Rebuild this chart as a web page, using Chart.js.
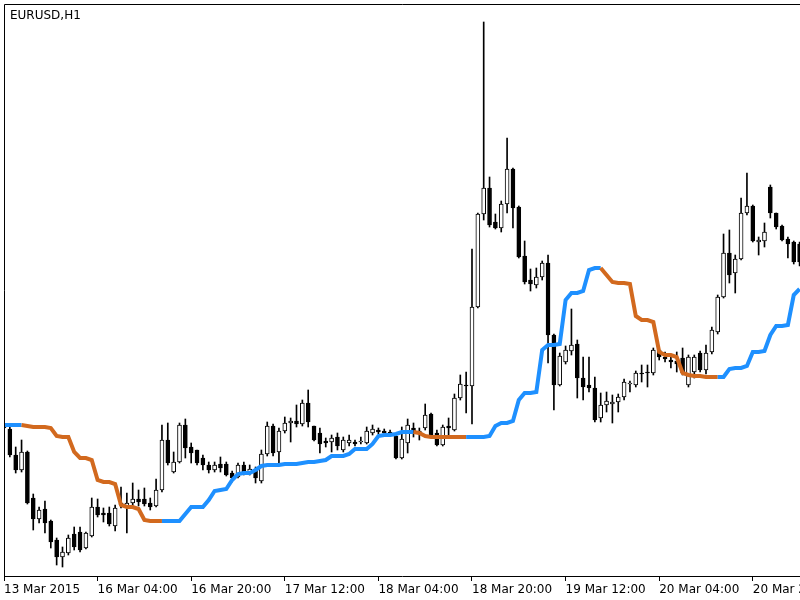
<!DOCTYPE html>
<html>
<head>
<meta charset="utf-8">
<script src="https://cdn.jsdelivr.net/npm/chart.js@4.4.1/dist/chart.umd.min.js"></script>
<style>
  html, body { margin: 0; padding: 0; background: #fff; }
  #wrap { width: 800px; height: 600px; }
</style>
</head>
<body>
<div id="wrap"><canvas id="chart" width="800" height="600"></canvas></div>
<script>
const symbolTitle = "EURUSD,H1";

// one tick every 16 hourly bars
const tickBars = [0, 16, 32, 48, 64, 80, 96, 112, 128];
const tickLabels = [
  "13 Mar 2015", "16 Mar 04:00", "16 Mar 20:00", "17 Mar 12:00", "18 Mar 04:00",
  "18 Mar 20:00", "19 Mar 12:00", "20 Mar 04:00", "20 Mar 20:00"
];

const openPrices = [
  1.0576, 1.0575, 1.0549, 1.0534, 1.0552, 1.0506, 1.0485, 1.0495, 1.0483, 1.0464,
  1.0447, 1.0451, 1.0470, 1.0472, 1.0456, 1.0468, 1.0497, 1.0491, 1.0491, 1.0478,
  1.0499, 1.0497, 1.0501, 1.0505, 1.0505, 1.0501, 1.0498, 1.0514, 1.0564, 1.0532,
  1.0542, 1.0579, 1.0557, 1.0554, 1.0546, 1.0539, 1.0534, 1.0540, 1.0540, 1.0531,
  1.0527, 1.0539, 1.0531, 1.0534, 1.0523, 1.0550, 1.0578, 1.0552, 1.0573, 1.0581,
  1.0583, 1.0580, 1.0601, 1.0578, 1.0571, 1.0563, 1.0562, 1.0567, 1.0554, 1.0561,
  1.0562, 1.0562, 1.0561, 1.0571, 1.0574, 1.0573, 1.0572, 1.0568, 1.0546, 1.0561,
  1.0576, 1.0573, 1.0576, 1.0590, 1.0571, 1.0559, 1.0578, 1.0574, 1.0606, 1.0619,
  1.0618, 1.0697, 1.0790, 1.0816, 1.0782, 1.0776, 1.0800, 1.0835, 1.0797, 1.0748,
  1.0724, 1.0719, 1.0727, 1.0741, 1.0669, 1.0619, 1.0642, 1.0653, 1.0660, 1.0626,
  1.0619, 1.0616, 1.0586, 1.0599, 1.0600, 1.0602, 1.0607, 1.0620, 1.0619, 1.0631,
  1.0632, 1.0631, 1.0654, 1.0647, 1.0644, 1.0643, 1.0646, 1.0619, 1.0632, 1.0651,
  1.0634, 1.0652, 1.0672, 1.0707, 1.0751, 1.0731, 1.0745, 1.0791, 1.0798, 1.0762,
  1.0763, 1.0817, 1.0791, 1.0778, 1.0765, 1.0762, 1.0760
];

const highPrices = [
  1.0583, 1.0577, 1.0557, 1.0564, 1.0553, 1.0510, 1.0497, 1.0503, 1.0484, 1.0466,
  1.0457, 1.0469, 1.0477, 1.0477, 1.0472, 1.0506, 1.0505, 1.0496, 1.0497, 1.0499,
  1.0517, 1.0511, 1.0521, 1.0514, 1.0516, 1.0506, 1.0525, 1.0579, 1.0581, 1.0552,
  1.0581, 1.0585, 1.0561, 1.0554, 1.0549, 1.0542, 1.0542, 1.0547, 1.0542, 1.0533,
  1.0541, 1.0542, 1.0539, 1.0537, 1.0554, 1.0582, 1.0580, 1.0576, 1.0587, 1.0586,
  1.0599, 1.0604, 1.0614, 1.0578, 1.0576, 1.0566, 1.0569, 1.0571, 1.0567, 1.0569,
  1.0564, 1.0567, 1.0577, 1.0579, 1.0576, 1.0575, 1.0574, 1.0570, 1.0577, 1.0585,
  1.0581, 1.0576, 1.0600, 1.0591, 1.0574, 1.0579, 1.0586, 1.0610, 1.0629, 1.0632,
  1.0755, 1.0791, 1.0982, 1.0827, 1.0790, 1.0803, 1.0866, 1.0836, 1.0798, 1.0763,
  1.0735, 1.0736, 1.0743, 1.0749, 1.0670, 1.0651, 1.0658, 1.0695, 1.0664, 1.0647,
  1.0647, 1.0627, 1.0611, 1.0612, 1.0609, 1.0610, 1.0625, 1.0623, 1.0633, 1.0639,
  1.0639, 1.0656, 1.0656, 1.0652, 1.0648, 1.0652, 1.0656, 1.0649, 1.0649, 1.0653,
  1.0659, 1.0677, 1.0709, 1.0770, 1.0774, 1.0749, 1.0806, 1.0831, 1.0799, 1.0767,
  1.0781, 1.0819, 1.0791, 1.0779, 1.0767, 1.0763, 1.0762
];

const lowPrices = [
  1.0573, 1.0547, 1.0531, 1.0532, 1.0500, 1.0474, 1.0481, 1.0471, 1.0456, 1.0439,
  1.0437, 1.0449, 1.0454, 1.0452, 1.0455, 1.0467, 1.0487, 1.0482, 1.0478, 1.0473,
  1.0496, 1.0471, 1.0497, 1.0498, 1.0498, 1.0494, 1.0497, 1.0512, 1.0539, 1.0531,
  1.0541, 1.0546, 1.0541, 1.0539, 1.0534, 1.0531, 1.0532, 1.0532, 1.0528, 1.0522,
  1.0526, 1.0529, 1.0529, 1.0521, 1.0521, 1.0548, 1.0548, 1.0541, 1.0571, 1.0562,
  1.0577, 1.0578, 1.0577, 1.0563, 1.0551, 1.0557, 1.0552, 1.0554, 1.0552, 1.0558,
  1.0558, 1.0560, 1.0560, 1.0569, 1.0570, 1.0569, 1.0568, 1.0545, 1.0545, 1.0551,
  1.0567, 1.0564, 1.0574, 1.0567, 1.0558, 1.0558, 1.0569, 1.0573, 1.0604, 1.0591,
  1.0580, 1.0696, 1.0784, 1.0777, 1.0775, 1.0772, 1.0791, 1.0776, 1.0746, 1.0720,
  1.0713, 1.0716, 1.0724, 1.0641, 1.0594, 1.0618, 1.0640, 1.0649, 1.0606, 1.0604,
  1.0612, 1.0582, 1.0582, 1.0592, 1.0581, 1.0592, 1.0604, 1.0612, 1.0617, 1.0622,
  1.0617, 1.0629, 1.0644, 1.0642, 1.0636, 1.0632, 1.0629, 1.0617, 1.0626, 1.0632,
  1.0630, 1.0650, 1.0670, 1.0706, 1.0721, 1.0711, 1.0744, 1.0789, 1.0762, 1.0749,
  1.0757, 1.0786, 1.0775, 1.0763, 1.0746, 1.0740, 1.0738
];

const closePrices = [
  1.0578, 1.0549, 1.0534, 1.0552, 1.0501, 1.0485, 1.0494, 1.0481, 1.0462, 1.0447,
  1.0452, 1.0466, 1.0457, 1.0454, 1.0471, 1.0497, 1.0489, 1.0489, 1.0480, 1.0496,
  1.0501, 1.0501, 1.0505, 1.0502, 1.0500, 1.0497, 1.0514, 1.0564, 1.0541, 1.0542,
  1.0579, 1.0556, 1.0551, 1.0541, 1.0539, 1.0534, 1.0539, 1.0536, 1.0529, 1.0526,
  1.0539, 1.0531, 1.0535, 1.0526, 1.0550, 1.0578, 1.0551, 1.0573, 1.0581, 1.0583,
  1.0580, 1.0601, 1.0582, 1.0564, 1.0560, 1.0561, 1.0566, 1.0558, 1.0564, 1.0564,
  1.0560, 1.0563, 1.0573, 1.0575, 1.0572, 1.0571, 1.0570, 1.0546, 1.0565, 1.0579,
  1.0573, 1.0570, 1.0589, 1.0569, 1.0559, 1.0577, 1.0576, 1.0606, 1.0620, 1.0618,
  1.0697, 1.0790, 1.0816, 1.0779, 1.0776, 1.0800, 1.0835, 1.0796, 1.0747, 1.0722,
  1.0720, 1.0727, 1.0741, 1.0669, 1.0619, 1.0648, 1.0654, 1.0659, 1.0626, 1.0617,
  1.0616, 1.0584, 1.0599, 1.0603, 1.0602, 1.0607, 1.0622, 1.0621, 1.0631, 1.0630,
  1.0631, 1.0654, 1.0647, 1.0645, 1.0642, 1.0640, 1.0631, 1.0647, 1.0647, 1.0634,
  1.0651, 1.0674, 1.0707, 1.0751, 1.0729, 1.0745, 1.0791, 1.0798, 1.0763, 1.0764,
  1.0772, 1.0791, 1.0777, 1.0764, 1.0760, 1.0742, 1.0742
];

// indicator line and its colour state (1 = rising / blue, 0 = falling / orange)
const signalLine = [
  1.0579, 1.0579, 1.0579, 1.0579, 1.0578, 1.0577, 1.0577, 1.0577, 1.0576, 1.0568,
  1.0567, 1.0567, 1.0552, 1.0546, 1.0546, 1.0544, 1.0524, 1.0522, 1.0522, 1.0520,
  1.0499, 1.0497, 1.0497, 1.0495, 1.0484, 1.0483, 1.0483, 1.0483, 1.0483, 1.0483,
  1.0483, 1.0490, 1.0497, 1.0497, 1.0497, 1.0504, 1.0513, 1.0514, 1.0515, 1.0524,
  1.0530, 1.0531, 1.0531, 1.0534, 1.0538, 1.0539, 1.0539, 1.0539, 1.0540, 1.0540,
  1.0540, 1.0541, 1.0542, 1.0542, 1.0543, 1.0544, 1.0548, 1.0548, 1.0548, 1.0550,
  1.0555, 1.0555, 1.0555, 1.0560, 1.0568, 1.0569, 1.0569, 1.0570, 1.0572, 1.0572,
  1.0572, 1.0571, 1.0568, 1.0567, 1.0567, 1.0567, 1.0567, 1.0567, 1.0567, 1.0567,
  1.0567, 1.0567, 1.0567, 1.0568, 1.0578, 1.0581, 1.0581, 1.0583, 1.0604, 1.0611,
  1.0611, 1.0612, 1.0654, 1.0659, 1.0659, 1.0660, 1.0704, 1.0711, 1.0711, 1.0713,
  1.0734, 1.0736, 1.0736, 1.0729, 1.0722, 1.0721, 1.0721, 1.0720, 1.0688, 1.0684,
  1.0684, 1.0682, 1.0652, 1.0649, 1.0649, 1.0647, 1.0631, 1.0629, 1.0628, 1.0628,
  1.0627, 1.0627, 1.0627, 1.0627, 1.0635, 1.0636, 1.0636, 1.0638, 1.0652, 1.0652,
  1.0653, 1.0669, 1.0678, 1.0678, 1.0679, 1.0709, 1.0715
];

const signalUp = [
  1, 1, 1, 1, 0, 0, 0, 0, 0, 0,
  0, 0, 0, 0, 0, 0, 0, 0, 0, 0,
  0, 0, 0, 0, 0, 0, 0, 0, 1, 1,
  1, 1, 1, 1, 1, 1, 1, 1, 1, 1,
  1, 1, 1, 1, 1, 1, 1, 1, 1, 1,
  1, 1, 1, 1, 1, 1, 1, 1, 1, 1,
  1, 1, 1, 1, 1, 1, 1, 1, 1, 1,
  1, 0, 0, 0, 0, 0, 0, 0, 0, 0,
  1, 1, 1, 1, 1, 1, 1, 1, 1, 1,
  1, 1, 1, 1, 1, 1, 1, 1, 1, 1,
  1, 1, 1, 0, 0, 0, 0, 0, 0, 0,
  0, 0, 0, 0, 0, 0, 0, 0, 0, 0,
  0, 0, 0, 1, 1, 1, 1, 1, 1, 1,
  1, 1, 1, 1, 1, 1, 1
];

const upColor = "#1e90ff";
const downColor = "#d2691e";

const barIndex = openPrices.map((_, i) => i);

const framePlugin = {
  id: "frame",
  afterDraw(chart) {
    const { ctx, chartArea } = chart;
    ctx.save();
    ctx.strokeStyle = "#000";
    ctx.lineWidth = 1;
    ctx.beginPath();
    ctx.moveTo(chartArea.left + 0.5, chartArea.bottom);
    ctx.lineTo(chartArea.left + 0.5, chartArea.top + 0.5);
    ctx.lineTo(chartArea.right, chartArea.top + 0.5);
    ctx.stroke();

    ctx.fillStyle = "#000";
    ctx.font = "12px 'DejaVu Sans'";
    ctx.textBaseline = "top";
    ctx.fillText(symbolTitle, chartArea.left + 6, chartArea.top + 6);
    ctx.restore();
  }
};

new Chart(document.getElementById("chart"), {
  type: "bar",
  data: {
    datasets: [
      {
        type: "line",
        data: barIndex.map(i => ({ x: i, y: signalLine[i] })),
        borderWidth: 4,
        pointRadius: 0,
        tension: 0,
        order: 0,
        segment: {
          borderColor: ctx => signalUp[ctx.p1DataIndex] ? upColor : downColor
        }
      },
      {
        data: barIndex.map(i => ({ x: i, y: [openPrices[i], closePrices[i]] })),
        grouped: false,
        barThickness: 4,
        borderWidth: 1,
        borderSkipped: false,
        borderColor: "#000",
        backgroundColor: barIndex.map(i => closePrices[i] >= openPrices[i] ? "#fff" : "#000"),
        order: 1
      },
      {
        data: barIndex.map(i => ({ x: i, y: [lowPrices[i], highPrices[i]] })),
        grouped: false,
        barThickness: 1,
        borderWidth: 0,
        backgroundColor: "#000",
        order: 2
      }
    ]
  },
  options: {
    responsive: false,
    animation: false,
    layout: {
      padding: { left: 4, top: 4, right: 0, bottom: 0 }
    },
    plugins: {
      legend: { display: false },
      tooltip: { enabled: false }
    },
    scales: {
      x: {
        type: "linear",
        min: 0,
        max: 136.07,
        offset: false,
        grid: {
          display: true,
          drawOnChartArea: false,
          drawTicks: true,
          tickLength: 5,
          color: "#000",
          offset: false
        },
        border: { display: true, color: "#000", width: 1 },
        ticks: {
          autoSkip: false,
          maxRotation: 0,
          minRotation: 0,
          align: "start",
          padding: 2,
          color: "#000",
          font: { family: "DejaVu Sans", size: 12 },
          callback: (value, index) => tickLabels[index]
        },
        afterBuildTicks: scale => {
          scale.ticks = tickBars.map(v => ({ value: v }));
        },
        afterFit: scale => {
          scale.height = 24;
          scale.paddingLeft = 0;
          scale.paddingRight = 0;
        }
      },
      y: {
        display: false,
        min: 1.0428,
        max: 1.1000
      }
    }
  },
  plugins: [framePlugin]
});
</script>
</body>
</html>
